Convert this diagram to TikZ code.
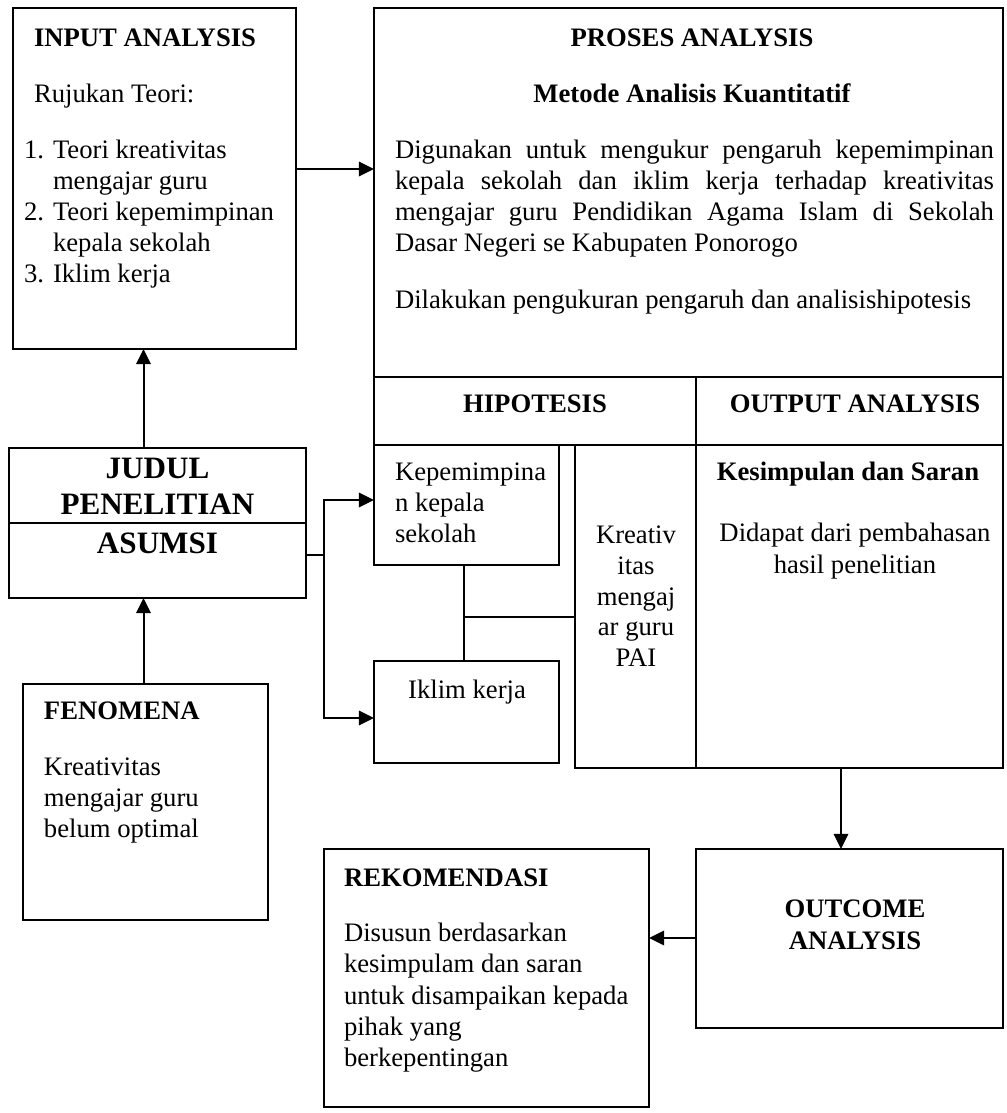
\documentclass[tikz,border=0pt]{standalone}
\usepackage{fontspec}
\setmainfont{Liberation Serif}
\usetikzlibrary{arrows.meta}
\tikzset{
  boxst/.style={draw, line width=0.8pt, inner sep=0pt, outer sep=0pt, rectangle},
  txt/.style={inner sep=0pt, outer sep=0pt, font=\fontsize{12}{14}\selectfont, anchor=base west},
  txtc/.style={txt, anchor=base},
  hd/.style={txt, font=\fontsize{12}{14}\selectfont\bfseries},
  hdc/.style={hd, anchor=base},
  big/.style={inner sep=0pt, outer sep=0pt, anchor=base, font=\fontsize{14}{16}\selectfont\bfseries},
  arr/.style={line width=0.9pt, -{Triangle[length=6.8pt,width=6.5pt]}},
  ln/.style={line width=0.8pt}
}
\newcommand\mkbox[5]{\node[boxst, minimum width={(#4-#2)*0.45pt}, minimum height={(#5-#3)*0.45pt}] (#1) at ({(#2+#4)/2},{(#3+#5)/2}) {};}
\begin{document}
\begin{tikzpicture}[x=0.45pt, y=-0.45pt]
\useasboundingbox (0,0) rectangle (1006,1113);
% boxes
\mkbox{input}{13}{8}{296}{349}
\mkbox{proses}{374}{8}{1003}{377}
\mkbox{hiphead}{374}{377}{696}{445}
\mkbox{outhead}{696}{377}{1003}{445}
\mkbox{outbody}{696}{445}{1003}{768}
\mkbox{kre}{575}{445}{696}{768}
\mkbox{kep}{374}{445}{559}{565}
\mkbox{ikl}{374}{661}{559}{763}
\mkbox{judul}{9}{448}{306}{598}
\mkbox{fen}{23}{684}{268}{920}
\mkbox{rekom}{324}{849}{649}{1107}
\mkbox{outcome}{696}{849}{1003}{1028}
\coordinate (jdiv) at (0,523);
\draw[ln] (judul.west |- jdiv) -- (judul.east |- jdiv);

% input texts
\node[hd] (tin1) at (34,46) {INPUT ANALYSIS};
\node[txt] (tin2) at (34,102) {Rujukan Teori:};
\node[txt] (tin3a) at (24,158) {1.};
\node[txt] (tin3) at (53,158) {Teori kreativitas};
\node[txt] (tin4) at (53,189) {mengajar guru};
\node[txt] (tin5a) at (24,220) {2.};
\node[txt] (tin5) at (53,220) {Teori kepemimpinan};
\node[txt] (tin6) at (53,251) {kepala sekolah};
\node[txt] (tin7a) at (24,282) {3.};
\node[txt] (tin7) at (53,282) {Iklim kerja};

% proses texts
\node[hdc] (tp1) at (692,46) {PROSES ANALYSIS};
\node[hdc] (tp2) at (692,102) {Metode Analisis Kuantitatif};
\node[txt] (tp3) at (395,158) {\makebox[269.55pt][s]{Digunakan untuk mengukur pengaruh kepemimpinan}};
\node[txt] (tp4) at (395,189) {\makebox[269.55pt][s]{kepala sekolah dan iklim kerja terhadap kreativitas}};
\node[txt] (tp5) at (395,220) {\makebox[269.55pt][s]{mengajar guru Pendidikan Agama Islam di Sekolah}};
\node[txt] (tp6) at (395,251) {Dasar Negeri se Kabupaten Ponorogo};
\node[txt] (tp7) at (395,308) {Dilakukan pengukuran pengaruh dan analisishipotesis};

% headers
\node[hdc] (th1) at (535,412) {HIPOTESIS};
\node[hdc] (th2) at (855,412) {OUTPUT ANALYSIS};

% kepemimpinan
\node[txt] (tk1) at (395,480) {Kepemimpina};
\node[txt] (tk2) at (395,511) {n kepala};
\node[txt] (tk3) at (395,542) {sekolah};
% kreativitas
\node[txtc] (tr1) at (636,543) {Kreativ};
\node[txtc] (tr2) at (636,574) {itas};
\node[txtc] (tr3) at (636,605) {mengaj};
\node[txtc] (tr4) at (636,635) {ar guru};
\node[txtc] (tr5) at (636,666) {PAI};
% iklim
\node[txtc] (ti1) at (467,698) {Iklim kerja};
% output body
\node[hdc] (to1) at (848,480) {Kesimpulan dan Saran};
\node[txtc] (to2) at (855,541) {Didapat dari pembahasan};
\node[txtc] (to3) at (855,573) {hasil penelitian};

% judul
\node[big] (tj1) at (157.5,478) {JUDUL};
\node[big] (tj2) at (157.5,514) {PENELITIAN};
\node[big] (tj3) at (157.5,553) {ASUMSI};

% fenomena
\node[hd] (tf1) at (44,719) {FENOMENA};
\node[txt] (tf2) at (44,775) {Kreativitas};
\node[txt] (tf3) at (44,806) {mengajar guru};
\node[txt] (tf4) at (44,837) {belum optimal};

% rekomendasi
\node[hd] (tre1) at (344,886) {REKOMENDASI};
\node[txt] (tre2) at (344,941) {Disusun berdasarkan};
\node[txt] (tre3) at (344,972) {kesimpulam dan saran};
\node[txt] (tre4) at (344,1004) {untuk disampaikan kepada};
\node[txt] (tre5) at (344,1035) {pihak yang};
\node[txt] (tre6) at (344,1066) {berkepentingan};

% outcome
\node[hdc] (tc1) at (855,917) {OUTCOME};
\node[hdc] (tc2) at (855,949) {ANALYSIS};

% connectors
\coordinate (y169) at (0,169);
\draw[arr] (input.east |- y169) -- (proses.west |- y169);
\coordinate (x143) at (143.5,0);
\draw[arr] (judul.north -| x143) -- (input.south -| x143);
\draw[arr] (fen.north -| x143) -- (judul.south -| x143);
\coordinate (jb) at (324,555);
\coordinate (y500) at (0,500);
\coordinate (y718) at (0,718);
\draw[ln] (judul.east |- jb) -- (jb);
\draw[arr] (jb) |- (kep.west |- y500);
\draw[arr] (jb) |- (ikl.west |- y718);
\coordinate (cv) at (464,617);
\draw[ln] (kep.south -| cv) -- (ikl.north -| cv);
\draw[ln] (cv) -- (kre.west |- cv);
\coordinate (x841) at (841,0);
\draw[arr] (outbody.south -| x841) -- (outcome.north -| x841);
\coordinate (y938) at (0,938);
\draw[arr] (outcome.west |- y938) -- (rekom.east |- y938);
\end{tikzpicture}
\end{document}
